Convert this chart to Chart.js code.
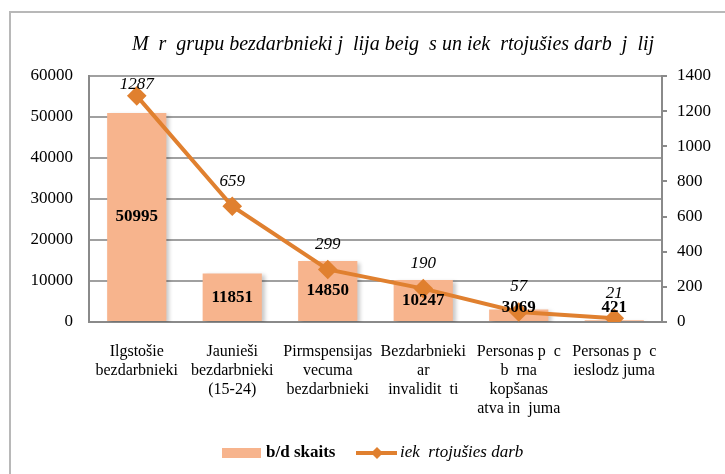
<!DOCTYPE html>
<html>
<head>
<meta charset="utf-8">
<script src="https://cdn.jsdelivr.net/npm/chart.js@4/dist/chart.umd.min.js"></script>
<style>
  html, body { margin: 0; padding: 0; background: #fff; }
  #chart { display: block; }
</style>
</head>
<body>
<canvas id="chart" width="725" height="474"></canvas>
<script>
const CATEGORIES = [
  ['Ilgstošie', 'bezdarbnieki'],
  ['Jaunieši', 'bezdarbnieki', '(15-24)'],
  ['Pirmspensijas', 'vecuma', 'bezdarbnieki'],
  ['Bezdarbnieki', 'ar', 'invalidit  ti'],
  ['Personas p  c', 'b  rna', 'kopšanas', 'atva in  juma'],
  ['Personas p  c', 'ieslodz juma']
];
const BD_COUNT = [50995, 11851, 14850, 10247, 3069, 421];
const EMPLOYED = [1287, 659, 299, 190, 57, 21];

const TITLE = 'M  r  grupu bezdarbnieki j  lija beig  s un iek  rtojušies darb  j  lij';
const BAR_LABEL = 'b/d skaits';
const LINE_LABEL = 'iek  rtojušies darb';

const BAR_COLOR = '#F7B48D';
const LINE_COLOR = '#E0802F';
const SERIF = '"Liberation Serif", "DejaVu Serif", serif';

const decorPlugin = {
  id: 'decor',
  beforeDraw(chart) {
    const ctx = chart.ctx;
    ctx.save();
    ctx.strokeStyle = '#b8b8b8';
    ctx.lineWidth = 2;
    ctx.strokeRect(10, 12, 800, 600);
    ctx.restore();
  },
  beforeDatasetDraw(chart, args) {
    if (args.meta.type === 'bar') {
      const ctx = chart.ctx;
      ctx.save();
      ctx.shadowColor = 'rgba(0,0,0,0.22)';
      ctx.shadowOffsetX = 3;
      ctx.shadowOffsetY = 2;
      ctx.shadowBlur = 4;
    }
  },
  afterDatasetDraw(chart, args) {
    if (args.meta.type === 'bar') chart.ctx.restore();
  },
  afterDraw(chart) {
    const ctx = chart.ctx;
    ctx.save();
    ctx.fillStyle = '#000';
    ctx.textBaseline = 'middle';

    // title
    ctx.font = 'italic 20px ' + SERIF;
    ctx.textAlign = 'center';
    ctx.fillText(TITLE, 393, 45);

    // bar value labels
    const barMeta = chart.getDatasetMeta(0);
    ctx.font = 'bold 17px ' + SERIF;
    barMeta.data.forEach((el, i) => {
      let y = (el.y + el.base) / 2;
      y = Math.min(y, el.base - 13);
      ctx.fillText(String(BD_COUNT[i]), el.x, y);
    });

    // line value labels
    const lineMeta = chart.getDatasetMeta(1);
    ctx.font = 'italic 17px ' + SERIF;
    lineMeta.data.forEach((el, i) => {
      let y = Math.max(el.y - 25, 85);
      ctx.fillText(String(EMPLOYED[i]), el.x, y);
    });

    // legend
    const ly = 453;
    ctx.fillStyle = BAR_COLOR;
    ctx.fillRect(222, ly - 5, 39, 10);
    ctx.fillStyle = '#000';
    ctx.textAlign = 'left';
    ctx.font = 'bold 17px ' + SERIF;
    ctx.fillText(BAR_LABEL, 266, ly);

    ctx.strokeStyle = LINE_COLOR;
    ctx.lineWidth = 4;
    ctx.beginPath();
    ctx.moveTo(356, ly);
    ctx.lineTo(397, ly);
    ctx.stroke();
    ctx.fillStyle = LINE_COLOR;
    ctx.beginPath();
    ctx.moveTo(377, ly - 6);
    ctx.lineTo(383, ly);
    ctx.lineTo(377, ly + 6);
    ctx.lineTo(371, ly);
    ctx.closePath();
    ctx.fill();
    ctx.fillStyle = '#000';
    ctx.font = 'italic 17px ' + SERIF;
    ctx.fillText(LINE_LABEL, 400, ly);
    ctx.restore();
  }
};

new Chart(document.getElementById('chart'), {
  data: {
    labels: CATEGORIES,
    datasets: [
      {
        type: 'bar',
        label: BAR_LABEL,
        data: BD_COUNT,
        backgroundColor: BAR_COLOR,
        yAxisID: 'y',
        categoryPercentage: 1,
        barPercentage: 0.62,
        order: 2
      },
      {
        type: 'line',
        label: LINE_LABEL,
        data: EMPLOYED,
        borderColor: LINE_COLOR,
        backgroundColor: LINE_COLOR,
        borderWidth: 4,
        pointStyle: 'rectRot',
        pointRadius: 7,
        pointHoverRadius: 7,
        yAxisID: 'y1',
        order: 1
      }
    ]
  },
  options: {
    responsive: false,
    animation: false,
    layout: { padding: { top: 76, left: 0, right: 0, bottom: 0 } },
    plugins: {
      legend: { display: false },
      title: { display: false },
      tooltip: { enabled: false }
    },
    scales: {
      x: {
        grid: { display: false },
        border: { display: true, color: '#8a8a8a', width: 2 },
        ticks: {
          color: '#000',
          font: { family: SERIF, size: 16, lineHeight: 1.2 },
          padding: 12,
          maxRotation: 0,
          autoSkip: false
        },
        afterFit: s => { s.height = 152; }
      },
      y: {
        position: 'left',
        min: 0,
        max: 60000,
        grid: { color: '#a0a0a0', lineWidth: 2, drawTicks: false },
        border: { display: true, color: '#8a8a8a', width: 2 },
        ticks: {
          stepSize: 10000,
          color: '#000',
          font: { family: SERIF, size: 17 },
          padding: 16,
          callback: v => String(v)
        },
        afterFit: s => { s.width = 89; }
      },
      y1: {
        position: 'right',
        min: 0,
        max: 1400,
        grid: { drawOnChartArea: false, color: '#8a8a8a', lineWidth: 2, tickLength: 5 },
        border: { display: true, color: '#8a8a8a', width: 2 },
        ticks: {
          stepSize: 200,
          color: '#000',
          font: { family: SERIF, size: 17 },
          padding: 10,
          callback: v => String(v)
        },
        afterFit: s => { s.width = 63; }
      }
    }
  },
  plugins: [decorPlugin]
});
</script>
</body>
</html>
